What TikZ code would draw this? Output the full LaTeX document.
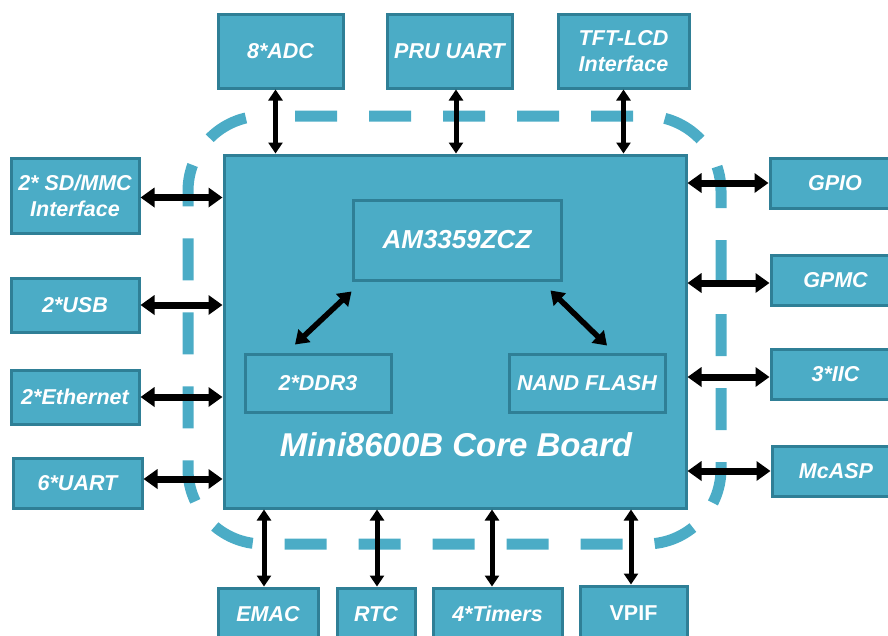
\documentclass[tikz,border=0pt]{standalone}
\usepackage{fontspec}
\setmainfont{Liberation Sans}
\usetikzlibrary{arrows.meta,calc}
\definecolor{tealfill}{RGB}{75,172,198}
\definecolor{tealedge}{RGB}{47,127,150}
\tikzset{
  box/.style={draw=tealedge, fill=tealfill, line width=3pt, inner sep=0pt,
    text=white, align=center,
    font=\fontsize{21.5}{26}\selectfont\bfseries\itshape},
  uprightbox/.style={box, font=\fontsize{21.5}{26}\selectfont\bfseries},
  chipbox/.style={box, font=\fontsize{26}{30}\selectfont\bfseries\itshape},
  boardtitle/.style={text=white, inner sep=0pt,
    font=\fontsize{33}{38}\selectfont\bfseries\itshape},
  dashline/.style={draw=tealfill, line width=11pt, dash pattern=on 42pt off 32pt,
    rounded corners=75pt},
  harrow/.style={line width=7pt, {Triangle[length=14pt,width=19pt]}-{Triangle[length=14pt,width=19pt]}},
  varrow/.style={line width=5pt, {Triangle[length=11pt,width=14pt]}-{Triangle[length=11pt,width=14pt]}},
  darrow/.style={line width=5.5pt, {Triangle[length=13pt,width=17pt]}-{Triangle[length=13pt,width=17pt]}},
}
\begin{document}
\begin{tikzpicture}[x=1pt,y=-1pt]
\useasboundingbox (0,0) rectangle (888,635);
\clip (0,0) rectangle (888,635);

% dashed outline
\draw[dashline] (295,116) -- (721,116) -- (721,544) -- (188,544) -- (188,116) -- (270,116);

% main board
\node[box, minimum width=462pt, minimum height=353pt] (main) at (455,331.5) {};
\node[chipbox, minimum width=208pt, minimum height=80pt] (am) at (457,240) {AM3359ZCZ};
\node[box, minimum width=146pt, minimum height=58pt] (ddr) at (318,383) {2*DDR3};
\node[box, minimum width=156pt, minimum height=58pt] (nand) at (587,383) {NAND FLASH};
\node[boardtitle] (boardname) at (456,445) {Mini8600B Core Board};

% top
\node[box, minimum width=125pt, minimum height=74pt] (adc) at (280.5,51) {8*ADC};
\node[box, minimum width=125pt, minimum height=74pt] (pru) at (449.5,51) {PRU UART};
\node[box, minimum width=131pt, minimum height=74pt] (tft) at (623.5,51) {TFT-LCD\\Interface};

% left
\node[box, minimum width=128pt, minimum height=75pt] (sd) at (75,195.5) {2* SD/MMC\\Interface};
\node[box, minimum width=128pt, minimum height=54pt] (usb) at (75,305) {2*USB};
\node[box, minimum width=128pt, minimum height=54pt] (eth) at (75,397) {2*Ethernet};
\node[box, minimum width=129pt, minimum height=50pt] (uartsix) at (77.5,483) {6*UART};

% right
\node[box, minimum width=130pt, minimum height=50pt] (gpio) at (835,183) {GPIO};
\node[box, minimum width=129pt, minimum height=50pt] (gpmc) at (835.5,280) {GPMC};
\node[box, minimum width=129pt, minimum height=50pt] (iic) at (835.5,374) {3*IIC};
\node[box, minimum width=128pt, minimum height=50pt] (mcasp) at (836,471) {McASP};

% bottom
\node[box, minimum width=100pt, minimum height=52pt] (emac) at (268,614) {EMAC};
\node[box, minimum width=78pt, minimum height=52pt] (rtc) at (376,614) {RTC};
\node[box, minimum width=129pt, minimum height=52pt] (timers) at (497.5,614) {4*Timers};
\node[uprightbox, minimum width=107pt, minimum height=54pt] (vpif) at (633.5,613) {VPIF};

% connectors: top
\draw[varrow] ([xshift=-5pt]adc.south) -- ([xshift=-5pt]adc.south |- main.north);
\draw[varrow] ([xshift=6.5pt]pru.south) -- ([xshift=6.5pt]pru.south |- main.north);
\draw[varrow] (tft.south) -- (tft.south |- main.north);

% left
\draw[harrow] ([yshift=-2pt]sd.east) -- ([yshift=-2pt]sd.east -| main.west);
\draw[harrow] (usb.east) -- (usb.east -| main.west);
\draw[harrow] (eth.east) -- (eth.east -| main.west);
\draw[harrow] ([yshift=4pt]uartsix.east) -- ([yshift=4pt]uartsix.east -| main.west);

% right
\draw[harrow] (gpio.west -| main.east) -- (gpio.west);
\draw[harrow] ([yshift=-3pt]gpmc.west -| main.east) -- ([yshift=-3pt]gpmc.west);
\draw[harrow] ([yshift=-3pt]iic.west -| main.east) -- ([yshift=-3pt]iic.west);
\draw[harrow] (mcasp.west -| main.east) -- (mcasp.west);

% bottom
\draw[varrow] ([xshift=-4pt]emac.north |- main.south) -- ([xshift=-4pt]emac.north);
\draw[varrow] ([xshift=1pt]rtc.north |- main.south) -- ([xshift=1pt]rtc.north);
\draw[varrow] ([xshift=-5.5pt]timers.north |- main.south) -- ([xshift=-5.5pt]timers.north);
\draw[varrow] ([xshift=-2.5pt]vpif.north |- main.south) -- ([xshift=-2.5pt]vpif.north);

% inner
\draw[darrow] ([shift={(0,10)}]am.south west) -- ([shift={(-23,-8)}]ddr.north);
\draw[darrow] ([shift={(-12,9)}]am.south east) -- ([shift={(20,-7)}]nand.north);
\end{tikzpicture}
\end{document}
